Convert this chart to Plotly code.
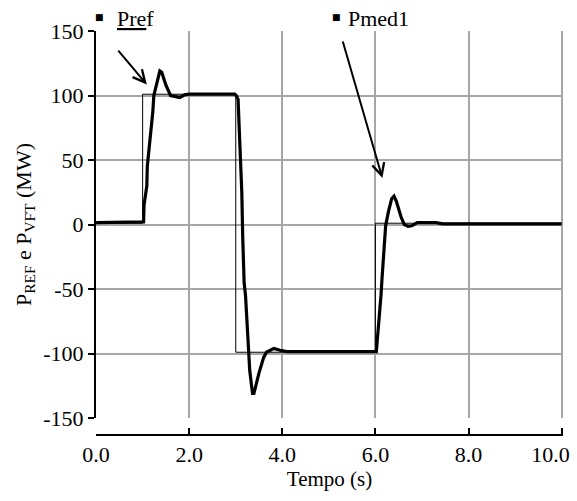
import plotly.graph_objects as go

# Reference power (step)
t_pref = [0.0, 1.0, 1.0, 3.0, 3.0, 6.0, 6.0, 10.0]
p_ref = [1, 1, 101, 101, -99, -99, 1, 1]

# Measured power
t_med = [0.0, 1.01, 1.02, 1.03, 1.07, 1.09, 1.10, 1.13, 1.15, 1.17, 1.20, 1.22, 1.24,
         1.30, 1.37, 1.41, 1.50, 1.60, 1.70, 1.80, 1.90, 2.00, 2.98,
         3.01, 3.05, 3.07, 3.09, 3.11, 3.13, 3.15, 3.18, 3.21, 3.23, 3.26, 3.30, 3.36, 3.39,
         3.50, 3.60, 3.66, 3.75, 3.82, 3.95, 4.10, 6.02,
         6.05, 6.08, 6.10, 6.12, 6.14, 6.16, 6.18, 6.20, 6.22, 6.28, 6.35, 6.40, 6.45,
         6.55, 6.62, 6.70, 6.78, 6.90, 7.30, 7.45, 10.0]
p_med = [1.5, 1.5, 2, 15, 25, 30, 45, 55, 62, 72, 80, 88, 100,
         110, 119, 118, 108, 100, 99, 98.5, 100.5, 101, 101,
         100, 97, 80, 60, 55, 25, -10, -45, -55, -68, -95, -113, -131, -131,
         -115, -103, -99, -97, -96, -97.5, -98.5, -98.5,
         -87, -75, -64, -55, -43, -32, -22, -12, -1, 10, 20, 22, 18,
         6, 0, -1.5, -1, 1.5, 1.5, 0.5, 0.5]

x_ticks = [0, 2, 4, 6, 8, 10]
x_ticklabels = ["0.0", "2.0", "4.0", "6.0", "8.0", "10.0" + "\u00a0" * 4]
y_ticks = [-150, -100, -50, 0, 50, 100, 150]
y_ticklabels = ["-150", "-100", "-50", "0", "50", "100", "150"]

FONT = "Times New Roman, Liberation Serif, serif"
TICKFONT = dict(family=FONT, size=22, color="black")

fig = go.Figure()
fig.add_trace(go.Scatter(x=t_pref, y=p_ref, mode="lines", name="Pref",
                         line=dict(color="black", width=1)))
fig.add_trace(go.Scatter(x=t_med, y=p_med, mode="lines", name="Pmed1",
                         line=dict(color="black", width=3.2)))

fig.update_layout(
    width=577, height=501,
    margin=dict(l=96, r=14, t=31, b=66, autoexpand=False),
    paper_bgcolor="white", plot_bgcolor="white",
    showlegend=False,
    font=dict(family=FONT, size=22, color="black"),
    xaxis=dict(range=[-0.002, 10.03], tickvals=x_ticks, ticktext=x_ticklabels,
               tickfont=TICKFONT, ticklabeloverflow="allow", automargin=False,
               showgrid=True, gridcolor="#a6a6a6", gridwidth=1.5,
               zeroline=False, showline=True, linecolor="black", linewidth=2,
               ticks="inside", ticklen=6, tickwidth=2, tickcolor="black",
               anchor="free", position=0,
               title=dict(text="Tempo (s)", font=dict(family=FONT, size=21), standoff=2)),
    yaxis=dict(range=[-150, 150], tickvals=y_ticks, ticktext=y_ticklabels, domain=[0.042, 1],
               tickfont=TICKFONT, automargin=False,
               showgrid=True, gridcolor="#a6a6a6", gridwidth=1.5,
               zeroline=False, showline=True, linecolor="black", linewidth=2,
               ticks="outside", ticklen=6, tickwidth=2, tickcolor="black",
               title=dict(text="P<sub>REF</sub> e P<sub>VFT</sub> (MW)",
                          font=dict(family=FONT, size=22), standoff=6)),
)

arrow_common = dict(xref="x", yref="y", axref="x", ayref="y", text="", showarrow=True,
                    arrowhead=5, arrowsize=1.2, arrowwidth=2, arrowcolor="black", standoff=0)
fig.add_annotation(x=1.09, y=108.5, ax=0.45, ay=136, **arrow_common)
fig.add_annotation(x=6.15, y=36, ax=5.29, ay=143, **arrow_common)

# Legend as text
fig.add_annotation(xref="paper", yref="paper", x=-0.006, y=1.034, xanchor="left", yanchor="middle",
                   text="■", showarrow=False, font=dict(family="DejaVu Sans", size=9, color="black"))
fig.add_annotation(xref="paper", yref="paper", x=0.040, y=1.032, xanchor="left", yanchor="middle",
                   text="<u>Pre</u>f", showarrow=False, font=dict(family=FONT, size=22, color="black"))
fig.add_annotation(xref="paper", yref="paper", x=0.5, y=1.034, xanchor="left", yanchor="middle",
                   text="■", showarrow=False, font=dict(family="DejaVu Sans", size=9, color="black"))
fig.add_annotation(xref="paper", yref="paper", x=0.535, y=1.032, xanchor="left", yanchor="middle",
                   text="Pmed1", showarrow=False, font=dict(family=FONT, size=22, color="black"))

fig.write_html("out.html")
